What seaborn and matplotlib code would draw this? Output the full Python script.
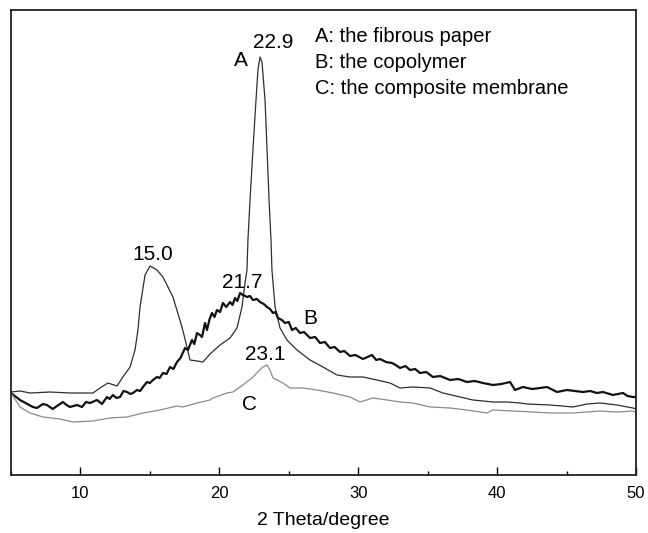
import numpy as np
import pandas as pd
import matplotlib
matplotlib.use("Agg")
import matplotlib.pyplot as plt
from matplotlib.ticker import MultipleLocator
import seaborn as sns

# curve A: the fibrous paper
theta_a = [5.0, 5.65, 6.37, 7.81, 9.25, 10.90, 11.41, 11.98, 12.63, 13.06, 13.57, 13.93,
           14.14, 14.29, 14.65, 15.01, 15.51, 15.94, 16.66, 17.31, 17.67, 17.89, 18.39,
           18.82, 19.33, 20.05, 20.77, 21.27, 21.63, 21.85, 21.99, 22.06, 22.21, 22.42,
           22.64, 22.78, 22.93, 23.07, 23.29, 23.58, 23.72, 23.79, 24.01, 24.37, 24.87,
           25.59, 26.53, 27.46, 28.47, 29.41, 30.34, 31.35, 32.29, 33.01, 33.94, 35.17,
           36.10, 37.33, 38.26, 39.70, 40.71, 41.65, 42.15, 43.81, 45.46, 46.47, 47.41,
           48.63, 49.78, 50.0]
int_a = [83, 84, 82, 83, 82, 82, 87, 92, 89, 98, 108, 125,
         145, 168, 200, 209, 205, 198, 178, 148, 128, 115, 114,
         113, 121, 130, 137, 147, 168, 192, 205, 235, 275, 325,
         375, 405, 418, 413, 375, 275, 235, 205, 168, 147, 135,
         125, 115, 108, 100, 98, 98, 95, 92, 87, 88, 87,
         82, 78, 75, 73, 73, 72, 71, 70, 68, 71, 72,
         70, 67, 66]

# curve B: the copolymer (noisy trace)
theta_b = [5.0, 5.65, 6.58, 6.87, 7.3, 7.59, 8.0, 8.31, 8.74, 9.0, 9.25, 9.75, 10.11,
           10.4, 10.69, 11.19, 11.55, 11.91, 12.1, 12.34, 12.6, 12.85, 13.1, 13.35, 13.6,
           13.78, 14.07, 14.3, 14.50, 14.79, 15.0, 15.22, 15.51, 15.7, 15.94, 16.2, 16.45,
           16.7, 16.95, 17.2, 17.53, 17.74, 18.03, 18.2, 18.39, 18.6, 18.75, 18.97, 19.11,
           19.3, 19.47, 19.65, 19.83, 20.05, 20.26, 20.5, 20.77, 20.95, 21.13, 21.3, 21.49,
           21.7, 21.99, 22.2, 22.42, 22.7, 22.93, 23.2, 23.43, 23.65, 23.86, 24.05, 24.22,
           24.5, 24.73, 25.0, 25.23, 25.5, 25.81, 26.1, 26.53, 26.9, 27.25, 27.6, 27.97,
           28.3, 28.69, 29.0, 29.41, 29.8, 30.34, 30.99, 31.3, 31.57, 32.0, 32.43, 32.7,
           33.01, 33.4, 33.73, 34.1, 34.45, 34.9, 35.38, 35.9, 36.61, 37.2, 37.83, 38.4,
           38.98, 39.70, 40.3, 40.93, 41.29, 41.86, 42.5, 43.09, 43.59, 44.31, 45.03,
           45.6, 46.18, 46.7, 47.19, 47.62, 48.34, 49.06, 49.4, 49.78, 50.0]
int_b = [82, 75, 68, 67, 71, 70, 66, 69, 73, 70, 68, 70, 68,
         73, 72, 75, 71, 78, 76, 80, 77, 78, 84, 83, 81,
         82, 85, 84, 88, 93, 92, 95, 98, 97, 102, 101, 108,
         106, 113, 117, 127, 125, 135, 131, 142, 140, 138, 152, 145,
         156, 162, 158, 165, 163, 172, 168, 173, 170, 177, 174, 182,
         180, 178, 179, 175, 176, 173, 171, 168, 166, 162, 163, 157,
         155, 152, 153, 145, 147, 142, 143, 137, 138, 132, 133, 127,
         128, 123, 124, 119, 120, 116, 120, 115, 116, 113, 112, 110,
         107, 109, 105, 106, 102, 103, 98, 99, 95, 96, 93, 94,
         92, 90, 91, 93, 85, 88, 86, 87, 88, 83, 85,
         84, 83, 84, 82, 83, 80, 82, 79, 78, 78]

# curve C: the composite membrane
theta_c = [5.0, 5.65, 6.37, 7.30, 8.53, 9.46, 10.90, 12.13, 13.35, 14.50, 15.73, 16.95,
           17.38, 18.39, 19.33, 19.54, 20.55, 20.98, 21.70, 22.42, 23.14, 23.43, 23.65,
           23.86, 24.58, 25.09, 26.02, 27.03, 28.18, 29.41, 30.13, 31.06, 32.07, 33.01,
           33.94, 35.17, 36.61, 37.83, 39.27, 39.70, 41.14, 42.58, 43.81, 45.46, 46.47,
           47.41, 48.63, 49.78, 50.0]
int_c = [82, 68, 62, 58, 56, 53, 54, 57, 58, 62, 65, 69,
         68, 72, 75, 77, 82, 83, 90, 98, 108, 110, 105,
         97, 92, 87, 87, 85, 82, 78, 73, 77, 75, 73,
         72, 68, 67, 65, 62, 65, 64, 63, 62, 62, 63,
         64, 63, 64, 63]

legend_lines = ["A: the fibrous paper", "B: the copolymer", "C: the composite membrane"]

sns.set_style("ticks")
plt.rcParams['font.family'] = ['Liberation Sans', 'DejaVu Sans']
plt.rcParams['text.color'] = 'black'
plt.rcParams['axes.labelcolor'] = 'black'
plt.rcParams['xtick.color'] = 'black'

fig = plt.figure(figsize=(6.48, 5.33), dpi=100)
ax = fig.add_axes([11 / 648, 1 - 475 / 533, 625 / 648, 465 / 533])

sns.lineplot(x=theta_a, y=int_a, ax=ax, color="#2e2e2e", lw=0.9, estimator=None)
sns.lineplot(x=theta_b, y=int_b, ax=ax, color="#111111", lw=1.6, estimator=None)
sns.lineplot(x=theta_c, y=int_c, ax=ax, color="#8a8a8a", lw=0.9, estimator=None)

fs = 15
ax.text(23.86, 433, "22.9", ha="center", va="center", fontsize=fs)
ax.text(21.56, 415, "A", ha="center", va="center", fontsize=fs)
ax.text(15.22, 220, "15.0", ha="center", va="center", fontsize=fs)
ax.text(21.63, 192, "21.7", ha="center", va="center", fontsize=fs)
ax.text(26.53, 157, "B", ha="center", va="center", fontsize=fs)
ax.text(23.29, 120, "23.1", ha="center", va="center", fontsize=fs)
ax.text(22.14, 71, "C", ha="center", va="center", fontsize=fs)

for i, s in enumerate(legend_lines):
    ax.text(26.89, 439 - i * 26, s, ha="left", va="center", fontsize=14.5)

ax.set_xlim(5, 50)
ax.set_ylim(0, 465)
ax.xaxis.set_major_locator(MultipleLocator(10))
ax.xaxis.set_minor_locator(MultipleLocator(5))
ax.tick_params(axis="x", which="major", direction="in", length=6, width=1, labelsize=12, pad=8)
ax.tick_params(axis="x", which="minor", direction="in", length=3, width=1)
ax.set_yticks([])
for sp in ax.spines.values():
    sp.set_visible(True)
    sp.set_linewidth(1.3)
    sp.set_color("#222222")
ax.set_xlabel("2 Theta/degree", fontsize=14, labelpad=8)
ax.set_ylabel("")

fig.savefig("out.png", dpi=100)
